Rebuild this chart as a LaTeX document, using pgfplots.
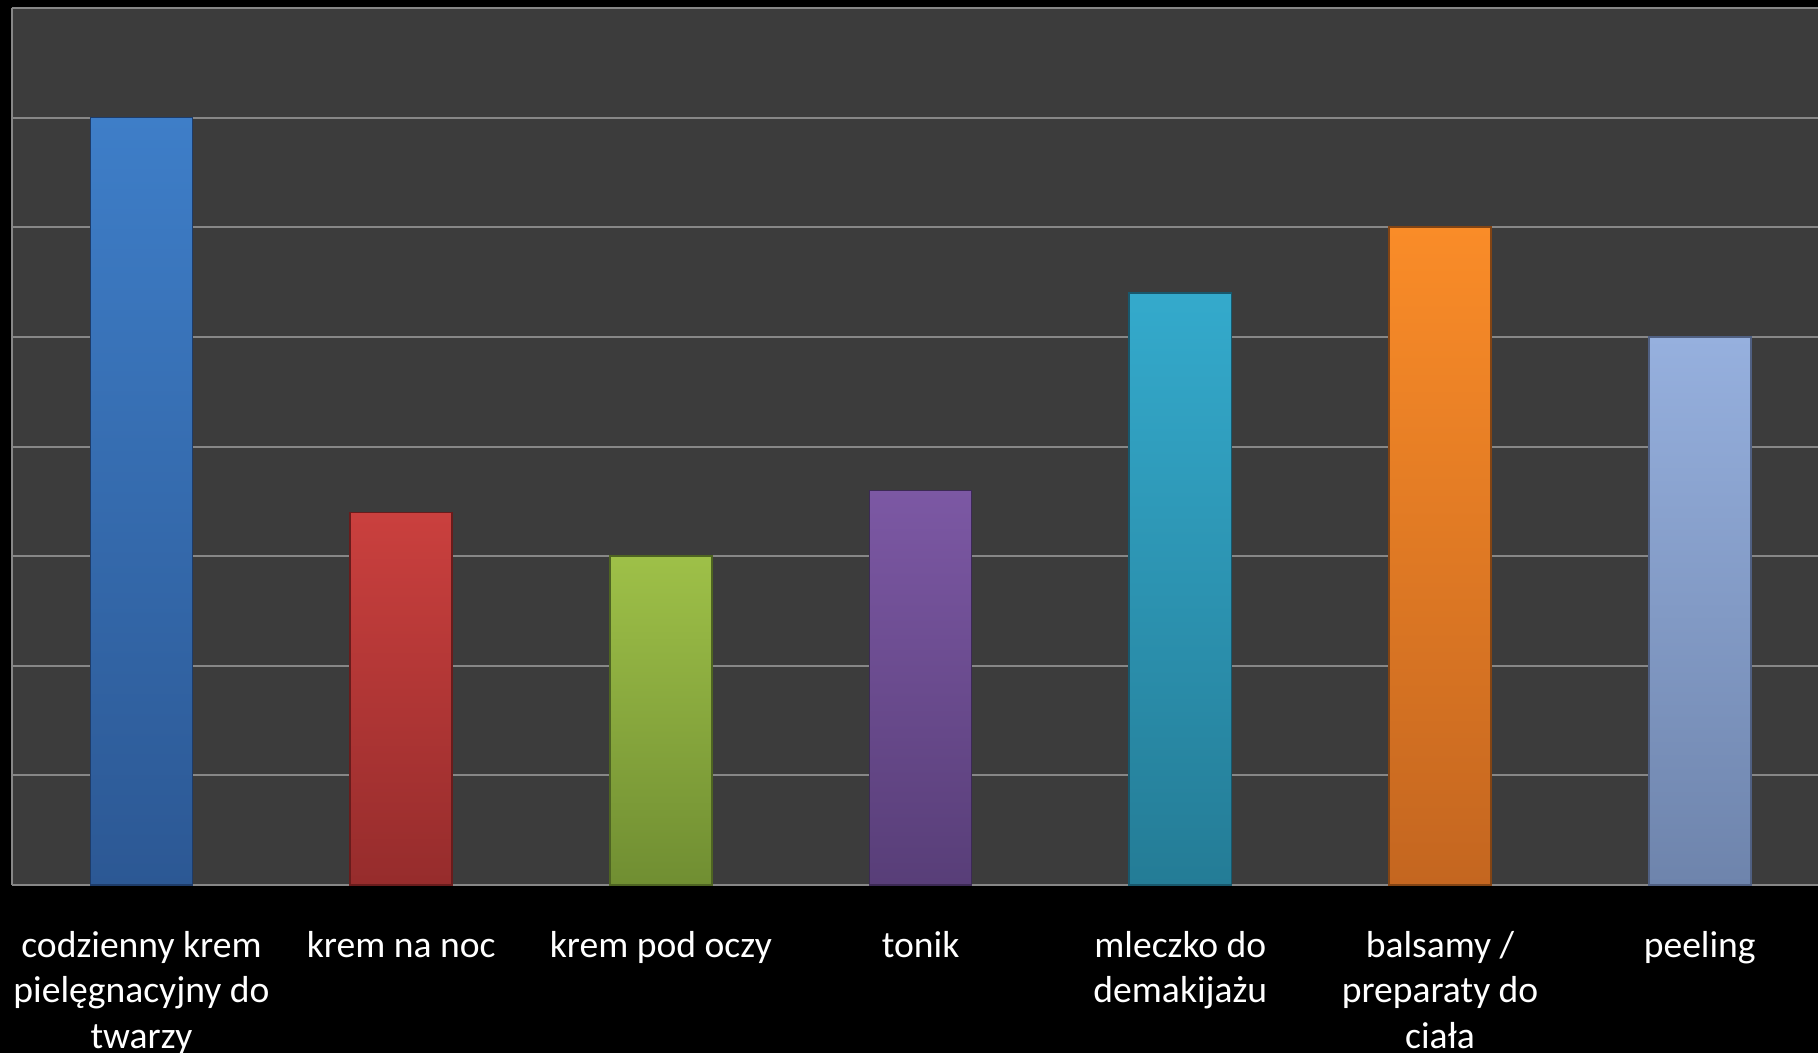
\documentclass[border=0pt]{standalone}
\usepackage{fontspec}
\setmainfont{Carlito}
\usepackage{pgfplots}
\pgfplotsset{compat=1.18}
\definecolor{bgdark}{RGB}{60,60,60}
\definecolor{gridc}{RGB}{135,135,135}
\definecolor{c1t}{RGB}{62,126,200}\definecolor{c1b}{RGB}{44,88,148}\definecolor{c1d}{RGB}{30,60,105}
\definecolor{c2t}{RGB}{202,64,62}\definecolor{c2b}{RGB}{150,44,44}\definecolor{c2d}{RGB}{105,28,28}
\definecolor{c3t}{RGB}{158,192,72}\definecolor{c3b}{RGB}{112,142,50}\definecolor{c3d}{RGB}{78,100,34}
\definecolor{c4t}{RGB}{124,88,164}\definecolor{c4b}{RGB}{88,62,120}\definecolor{c4d}{RGB}{60,42,85}
\definecolor{c5t}{RGB}{52,170,204}\definecolor{c5b}{RGB}{36,124,150}\definecolor{c5d}{RGB}{24,88,108}
\definecolor{c6t}{RGB}{250,140,40}\definecolor{c6b}{RGB}{196,102,32}\definecolor{c6d}{RGB}{130,68,20}
\definecolor{c7t}{RGB}{150,176,222}\definecolor{c7b}{RGB}{110,132,172}\definecolor{c7d}{RGB}{80,96,130}
\begin{document}
\begin{tikzpicture}
\useasboundingbox (0,0) rectangle (454.5pt,263.25pt);
\clip (0,0) rectangle (454.5pt,263.25pt);
\fill[black] (0,0) rectangle (454.5pt,263.25pt);
\begin{axis}[
  at={(2.9pt,42pt)}, anchor=south west,
  scale only axis, width=454.5pt, height=219.25pt,
  xmin=-0.5, xmax=6.5, ymin=0, ymax=8,
  ybar, bar width=0.393,
  axis background/.style={fill=bgdark},
  axis lines*=left, axis line style={gridc, line width=0.5pt, -},
  ytick={0,...,8}, ymajorticks=false, ymajorgrids,
  grid style={gridc, line width=0.5pt},
  xtick={0,...,6},
  xticklabels={{codzienny krem\\pielęgnacyjny do\\twarzy},{krem na noc},{krem pod oczy},{tonik},{mleczko do\\demakijażu},{balsamy /\\preparaty do\\ciała},{peeling}},
  major tick length=0pt,
  xticklabel style={anchor=north, align=center, text=white, font=\fontsize{9.4}{11.4}\selectfont, inner sep=0pt, yshift=-11.3pt},
]
\addplot[bar shift=0pt, draw=c1d, line width=0.4pt, top color=c1t, bottom color=c1b] coordinates {(0,7)};
\addplot[bar shift=0pt, draw=c2d, line width=0.4pt, top color=c2t, bottom color=c2b] coordinates {(1,3.4)};
\addplot[bar shift=0pt, draw=c3d, line width=0.4pt, top color=c3t, bottom color=c3b] coordinates {(2,3)};
\addplot[bar shift=0pt, draw=c4d, line width=0.4pt, top color=c4t, bottom color=c4b] coordinates {(3,3.6)};
\addplot[bar shift=0pt, draw=c5d, line width=0.4pt, top color=c5t, bottom color=c5b] coordinates {(4,5.4)};
\addplot[bar shift=0pt, draw=c6d, line width=0.4pt, top color=c6t, bottom color=c6b] coordinates {(5,6)};
\addplot[bar shift=0pt, draw=c7d, line width=0.4pt, top color=c7t, bottom color=c7b] coordinates {(6,5)};
\end{axis}
\end{tikzpicture}
\end{document}
